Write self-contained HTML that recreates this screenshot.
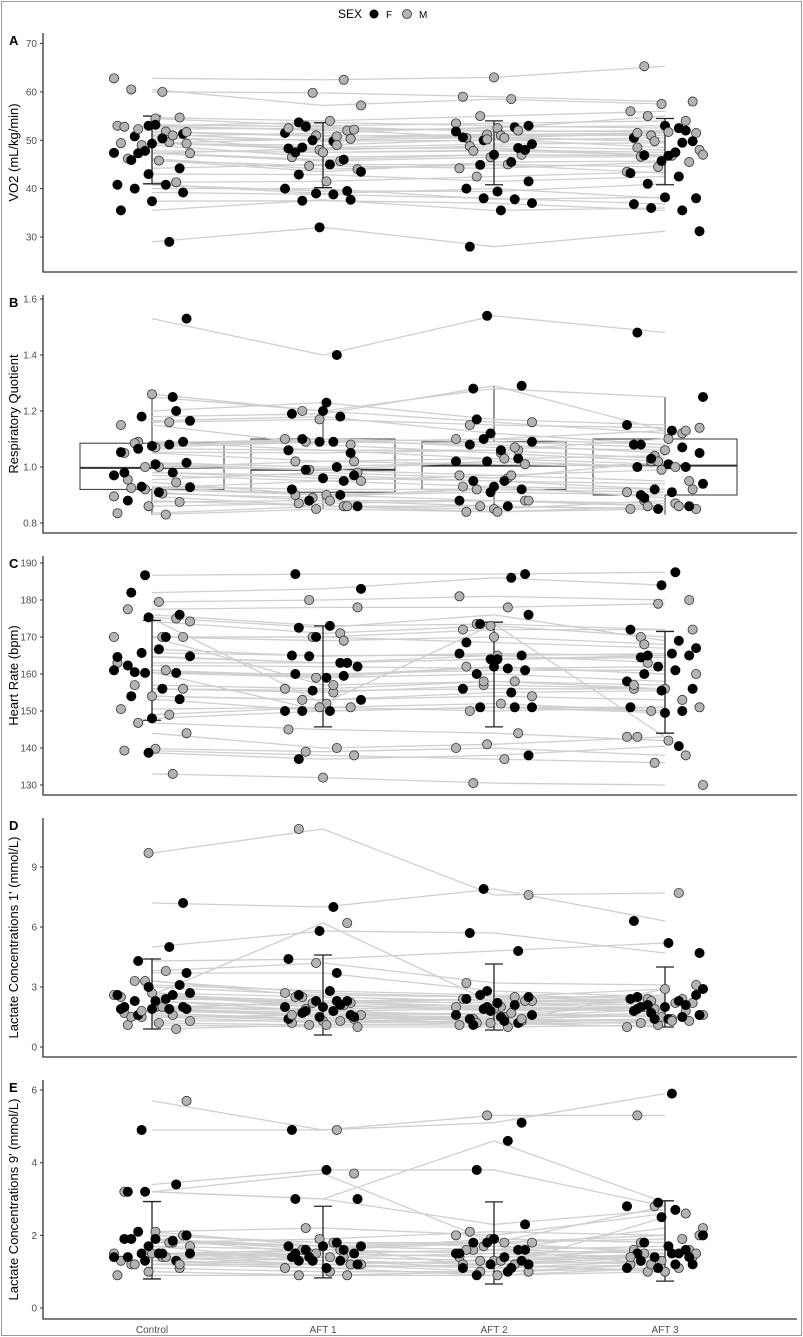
<!DOCTYPE html>
<html><head><meta charset="utf-8"><style>
html,body{margin:0;padding:0;background:#fff}
svg{display:block;font-family:"Liberation Sans",sans-serif}
</style></head><body>
<svg id="chart" width="803" height="1337" viewBox="0 0 803 1337">
<rect x="1.5" y="1.5" width="800" height="1334" fill="#fff" stroke="#999" stroke-width="1"/>
<g>
<text x="338" y="18" font-size="12" fill="#000">SEX</text>
<circle cx="374" cy="14" r="4.5" fill="#000"/>
<text x="386" y="18" font-size="10" fill="#000">F</text>
<circle cx="407" cy="14" r="4.5" fill="#b3b3b3" stroke="#333" stroke-width="0.8"/>
<text x="419" y="18" font-size="10" fill="#000">M</text>
</g>
</svg>
<script>
const categories = ["Control","AFT 1","AFT 2","AFT 3"];
const sex = ["M","M","M","M","F","M","M","F","F","F","M","M","M","M","M","M","M","M","M","M","M","M","F","F","F","F","F","F","F","F","F","F","F","F","F","F","M","F"];
const vo2 = [[62.8,62.5,63,65.3],[60,59.8,59,58],[60.5,57.2,58.5,57.5],[54.7,54,55,56],[53,53.7,53,52.5],[53,52,52.5,55],[51.8,51,50.5,51.5],[50.8,51.5,52.7,53],[51.3,49.8,50,50.5],[49.3,48.5,49.2,49.5],[49.4,50.3,51,51],[49.6,48,48.8,48],[52.3,52.5,52,51.7],[51.7,50.8,51.2,51.5],[54.5,53,53.5,54],[52.8,52.2,50.5,49.8],[51,47.5,47.8,47],[49,46.5,47,46.8],[47.3,45.7,46.5,46.6],[45.8,44.7,44.2,45.5],[46.2,44,45,44.5],[41.3,41.5,42.5,43.5],[47.8,47.5,48,47.5],[47.4,46,47,46.9],[50.4,50,50.6,49.8],[45.9,43.5,45.5,45.7],[44.2,45,44.9,43.2],[43,42.9,41.5,42.5],[40.8,39.5,39.4,41],[40.8,39,40,38],[40,40,37.8,38.2],[39.2,38.8,38,36.8],[37.4,37.5,37,35.5],[35.5,37.7,35.5,36],[29,32,28,31.2],[47.3,48.3,48.4,46.8],[49.3,49,50.2,48.5],[53.2,52.8,51.8,52]];
const rq = [[1.26,1.2,1.16,1.12],[1.15,1.08,1.05,1.02],[1.16,1.17,1.15,1.14],[1.09,1.06,1.06,1.10],[1.53,1.40,1.54,1.48],[1.07,1.09,1.10,1.13],[1.05,1.02,1.03,1.04],[1.25,1.20,1.28,1.25],[1.18,1.19,1.29,1.13],[1.165,1.18,1.12,1.08],[1.00,0.99,0.97,0.95],[0.955,0.98,0.96,1.02],[0.945,0.90,0.92,0.91],[0.92,0.90,0.88,0.87],[0.895,0.86,0.85,0.88],[0.905,0.89,0.93,0.92],[0.925,0.95,0.97,0.99],[0.875,0.88,0.86,0.85],[0.86,0.87,0.88,0.86],[0.835,0.86,0.84,0.86],[0.83,0.85,0.84,0.85],[1.085,1.10,1.07,1.06],[1.09,1.09,1.10,1.08],[1.075,1.10,1.09,1.07],[1.053,1.05,1.06,1.03],[1.08,1.09,1.08,1.05],[1.065,1.06,1.03,1.01],[1.015,1.00,1.02,1.00],[1.01,0.99,1.02,1.00],[0.98,0.97,0.95,0.92],[0.98,0.96,0.95,0.94],[0.93,0.92,0.92,0.91],[0.928,0.90,0.91,0.90],[0.91,0.88,0.88,0.86],[0.88,0.86,0.86,0.85],[1.20,1.23,1.17,1.15],[1.00,1.02,1.01,1.00],[0.97,0.95,0.93,0.89]];
const hr = [[174.2,171,173,170],[179.5,180,181,180],[177.5,178,178,179],[175,152,173.5,143],[186.7,187,187,187.5],[170,169,170,168],[170,170,172,172],[182,183,186,184],[176,173,173.5,172],[175.3,172.5,176,169],[163,163,165,163],[161,159,162,160],[157,156,158,156],[156,155,157,156],[154,153,154,153],[150.5,151,152,150],[149,151,150,151],[146.8,145,144,142],[144,140,141,143],[139.8,139,140,138],[139.3,138,137,136],[133,132,130.5,130],[165.7,165,165,165.5],[164.8,163,164,164.5],[166.7,164.8,165.5,165],[162.3,162,161.5,162],[160.3,159,160,158],[160.3,160,161,161],[161,159.5,162,160],[156,155.5,156,156],[154,153,155,155.5],[153.2,150,151,151],[138.7,137,138,140.5],[164.6,163,164,165],[170,170,168.5,167],[160.5,150,151,149.5],[170,157,158,157],[148,150,151,150]];
const lac1 = [[9.7,10.9,7.6,7.7],[2.6,6.2,2.2,2.4],[3.8,4.2,3.2,3.1],[3.3,2.7,2.5,2.9],[7.2,7.0,7.9,6.3],[2.7,2.5,2.3,2.4],[2.5,2.2,2.0,2.3],[5.0,5.8,5.7,4.7],[4.3,4.4,4.8,5.2],[3.7,3.7,2.8,2.5],[2.0,1.9,2.0,1.8],[1.7,1.4,1.5,1.9],[1.6,1.3,1.4,1.6],[1.5,1.2,1.3,1.4],[1.3,1.3,1.2,1.2],[1.2,1.1,1.1,1.3],[1.1,1.0,1.0,1.1],[0.9,1.1,1.2,1.0],[3.3,2.5,2.3,2.2],[2.6,2.1,1.9,2.0],[2.0,2.2,2.4,2.2],[1.5,1.6,1.7,1.5],[3.1,2.8,2.6,2.4],[3.0,2.6,2.5,2.3],[2.6,2.3,2.2,2.1],[2.4,2.3,2.4,2.6],[2.3,2.0,2.1,2.0],[2.0,1.8,1.9,1.8],[1.9,1.7,1.6,1.5],[1.9,1.6,1.5,1.7],[1.9,1.5,1.4,1.6],[1.6,1.4,1.2,1.4],[1.9,2.3,2.0,1.9],[2.3,1.8,1.6,2.1],[2.0,1.5,1.3,1.4],[2.6,2.0,1.1,2.9],[1.8,1.6,1.4,1.3],[2.7,2.1,1.8,2.0]];
const lac9 = [[5.7,4.9,5.3,5.3],[2.1,2.2,2.0,2.6],[3.2,3.7,1.8,2.8],[1.8,1.7,1.6,2.2],[4.9,4.9,5.1,5.9],[1.7,1.6,1.9,1.8],[1.5,1.5,1.4,1.6],[3.2,3.0,4.6,2.9],[3.4,3.8,3.8,2.8],[3.2,3.0,2.3,2.7],[1.5,1.4,1.3,1.5],[1.4,1.3,1.2,1.4],[1.2,1.2,1.1,1.3],[1.1,1.0,1.0,1.2],[1.0,0.9,1.0,1.1],[0.9,0.9,0.9,1.0],[1.4,1.5,1.6,1.5],[1.2,1.1,1.2,1.0],[2.0,1.8,1.7,1.6],[1.5,1.6,1.8,1.9],[1.3,1.2,1.3,1.2],[1.8,1.9,2.1,2.0],[2.1,1.7,1.6,1.7],[2.0,1.8,1.8,1.5],[1.9,1.6,1.5,1.6],[1.9,1.5,1.4,1.4],[1.85,1.7,1.8,2.0],[1.5,1.4,1.3,1.5],[1.5,1.3,1.2,1.3],[1.5,1.4,1.5,1.4],[1.4,1.2,1.0,1.1],[1.3,1.1,0.9,1.1],[1.3,1.5,1.6,1.2],[1.4,1.6,1.9,1.8],[1.5,1.3,1.1,1.2],[1.9,1.7,1.1,2.5],[1.2,1.4,1.3,1.4],[1.7,1.3,1.2,1.5]];
// mean ± SD error bars [low, high] per category
const vo2Err = [[41,55],[40.2,53.6],[40.8,54],[40.8,54.5]];
const hrErr = [[147.5,174.5],[145.7,173],[145.7,174],[144,171.5]];
const lac1Err = [[0.9,4.4],[0.6,4.6],[0.85,4.15],[1.0,4.0]];
const lac9Err = [[0.8,2.93],[0.83,2.8],[0.66,2.92],[0.74,2.95]];
// RQ box stats per category: [lowWhisker, q1, median, q3, highWhisker]
const rqBox = [[0.83,0.92,0.997,1.085,1.26],[0.85,0.91,0.99,1.10,1.23],[0.84,0.92,1.005,1.09,1.29],[0.83,0.90,1.005,1.10,1.25]];
const vo2Ticks = [30,40,50,60,70];
const rqTicks = [0.8,1.0,1.2,1.4,1.6];
const hrTicks = [130,140,150,160,170,180,190];
const lac1Ticks = [0,3,6,9];
const lac9Ticks = [0,2,4,6];

const NS = "http://www.w3.org/2000/svg";
const svg = document.getElementById("chart");
const XL = 43, XR = 797;
function xCat(i){ return 152 + i*171; }
function mk(tag, attrs, parent){ const e=document.createElementNS(NS,tag); for(const k in attrs) e.setAttribute(k,attrs[k]); (parent||svg).appendChild(e); return e; }

const panels = [
 {key:"a",letter:"A",title:"VO2 (mL/kg/min)",data:vo2,ticks:vo2Ticks,fmt:v=>v,top:33,bot:272,v1:70,y1:43.5,v0:30,y0:237,err:vo2Err},
 {key:"b",letter:"B",title:"Respiratory Quotient",data:rq,ticks:rqTicks,fmt:v=>v.toFixed(1),top:295,bot:533,v1:1.6,y1:299,v0:0.8,y0:523,box:rqBox},
 {key:"c",letter:"C",title:"Heart Rate (bpm)",data:hr,ticks:hrTicks,fmt:v=>v,top:556,bot:795,v1:190,y1:563,v0:130,y0:785,err:hrErr},
 {key:"d",letter:"D",title:"Lactate Concentrations 1' (mmol/L)",data:lac1,ticks:lac1Ticks,fmt:v=>v,top:818,bot:1057,v1:9,y1:867,v0:0,y0:1047,err:lac1Err},
 {key:"e",letter:"E",title:"Lactate Concentrations 9' (mmol/L)",data:lac9,ticks:lac9Ticks,fmt:v=>v,top:1080,bot:1319,v1:6,y1:1090,v0:0,y0:1308,err:lac9Err}
];

panels.forEach((p,pi)=>{
  const g = mk("g",{});
  
  
  const y = v => p.y0 + (v-p.v0)*(p.y1-p.y0)/(p.v1-p.v0);
  // panel letter
  const L = mk("text",{x:9,y:p.top+12,"font-size":13,"font-weight":"bold",fill:"#000"},g);
  L.textContent = p.letter;
  
  
  // y title
  const cy = (p.top+p.bot)/2;
  const T = mk("text",{x:0,y:0,"font-size":13,fill:"#000","text-anchor":"middle",transform:`translate(18,${cy}) rotate(-90)`},g);
  T.textContent = p.title;
  
  
  // ticks
  p.ticks.forEach(t=>{
    const ty = y(t);
    const tk = mk("line",{x1:40,x2:XL,y1:ty,y2:ty,stroke:"#333","stroke-width":1},g);
    
    
    const tl = mk("text",{x:37,y:ty+3.5,"font-size":10,fill:"#4d4d4d","text-anchor":"end"},g);
    tl.textContent = p.fmt(t);
    
    
  });
  // box plots (panel B)
  if(p.box){
    p.box.forEach((b,ci)=>{
      const cx = xCat(ci);
      const bg = mk("g",{},g);
      
      
      mk("line",{x1:cx,x2:cx,y1:y(b[4]),y2:y(b[3]),stroke:"#333","stroke-width":1},bg);
      mk("line",{x1:cx,x2:cx,y1:y(b[1]),y2:y(b[0]),stroke:"#333","stroke-width":1},bg);
      mk("rect",{x:cx-72,y:y(b[3]),width:144,height:y(b[1])-y(b[3]),fill:"none",stroke:"#333","stroke-width":1},bg);
      mk("line",{x1:cx-72,x2:cx+72,y1:y(b[2]),y2:y(b[2]),stroke:"#333","stroke-width":2},bg);
    });
  }
  // subject lines
  p.data.forEach((row,si)=>{
    for(let c=0;c<3;c++){
      const ln = mk("line",{x1:xCat(c),x2:xCat(c+1),y1:y(row[c]),y2:y(row[c+1]),stroke:"#cfcfcf","stroke-width":1.3},g);
      
      
    }
  });
  // error bars
  if(p.err){
    p.err.forEach((e,ci)=>{
      const cx = xCat(ci);
      const eg = mk("g",{stroke:"#222","stroke-width":1.3},g);
      
      
      mk("line",{x1:cx,x2:cx,y1:y(e[0]),y2:y(e[1])},eg);
      mk("line",{x1:cx-9,x2:cx+9,y1:y(e[0]),y2:y(e[0])},eg);
      mk("line",{x1:cx-9,x2:cx+9,y1:y(e[1]),y2:y(e[1])},eg);
    });
  }
  // points (jittered)
  p.data.forEach((row,si)=>{
    row.forEach((v,ci)=>{
      const j = (((si*37 + ci*17 + pi*11) % 23)/22 - 0.5) * 76;
      const pt = mk("circle",{cx:xCat(ci)+j,cy:y(v),r:4.6,
        fill: sex[si]==="F" ? "#000" : "#b3b3b3",
        stroke: sex[si]==="F" ? "#000" : "#333","stroke-width":0.8},g);
      
      
    });
  });
  // axes
  const ax = mk("path",{d:`M${XL},${p.top} L${XL},${p.bot} L${XR},${p.bot}`,fill:"none",stroke:"#333","stroke-width":1.3},g);
  
  
});
// x-axis labels (bottom)
categories.forEach((c,i)=>{
  const t = mk("text",{x:xCat(i),y:1333,"font-size":10,fill:"#4d4d4d","text-anchor":"middle"});
  t.textContent = c;
  
  
});
</script>
</body></html>
